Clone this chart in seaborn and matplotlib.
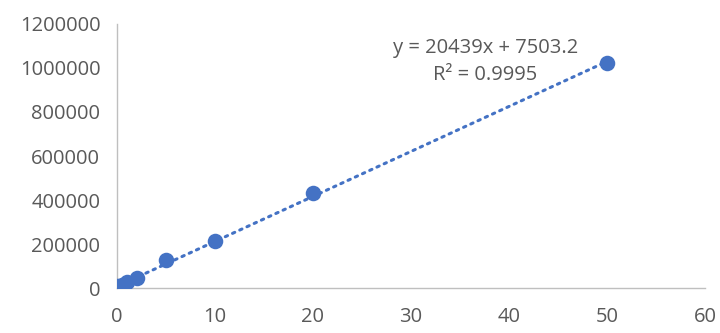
import numpy as np
import pandas as pd
import matplotlib
matplotlib.use("Agg")
import matplotlib.pyplot as plt
import seaborn as sns

# Calibration data
concentration = [0, 0.5, 1, 2, 5, 10, 20, 50]
response = [8000, 16000, 28000, 46000, 126000, 215000, 433000, 1024000]

# Linear trendline coefficients and fit quality
slope = 20439
intercept = 7503.2
r_squared = 0.9995

x_ticks = [0, 10, 20, 30, 40, 50, 60]
y_ticks = [0, 200000, 400000, 600000, 800000, 1000000, 1200000]

sns.set_style("white")
plt.rcParams["font.family"] = ["Open Sans", "DejaVu Sans"]

blue = "#4472C4"
gray_text = "#595959"
axis_gray = "#BFBFBF"

fig = plt.figure(figsize=(7.2, 3.33), dpi=100)
ax = fig.add_axes([0.1625, 0.135, 0.8165, 0.793])

df = pd.DataFrame({"x": concentration, "y": response})
trend_x = np.array([min(concentration), max(concentration)])
trend = pd.DataFrame({"x": trend_x, "y": slope * trend_x + intercept})

sns.lineplot(data=trend, x="x", y="y", ax=ax, color=blue, linewidth=2.2,
             linestyle=(0, (0.8, 1.8)), dash_capstyle="round", zorder=2)
sns.scatterplot(data=df, x="x", y="y", ax=ax, color=blue, s=125,
                edgecolor=blue, linewidth=0, zorder=3)

ax.set_xlim(0, 60)
ax.set_ylim(0, 1200000)
ax.set_xticks(x_ticks)
ax.set_yticks(y_ticks)
ax.set_xticklabels([str(t) for t in x_ticks])
ax.set_yticklabels([str(t) for t in y_ticks])
ax.set_xlabel("")
ax.set_ylabel("")
ax.tick_params(axis="both", length=0, labelsize=14.5, colors=gray_text)
ax.tick_params(axis="y", pad=12)
ax.tick_params(axis="x", pad=14)

for side in ("top", "right"):
    ax.spines[side].set_visible(False)
for side in ("left", "bottom"):
    ax.spines[side].set_color(axis_gray)
    ax.spines[side].set_linewidth(1.0)

ax.text(37.6, 1090000, f"y = {slope}x + {intercept}", ha="center", va="center",
        fontsize=14.5, color=gray_text)
ax.text(37.6, 968000, f"R\u00b2 = {r_squared}", ha="center", va="center",
        fontsize=14.5, color=gray_text)

fig.savefig("out.png", dpi=100)
